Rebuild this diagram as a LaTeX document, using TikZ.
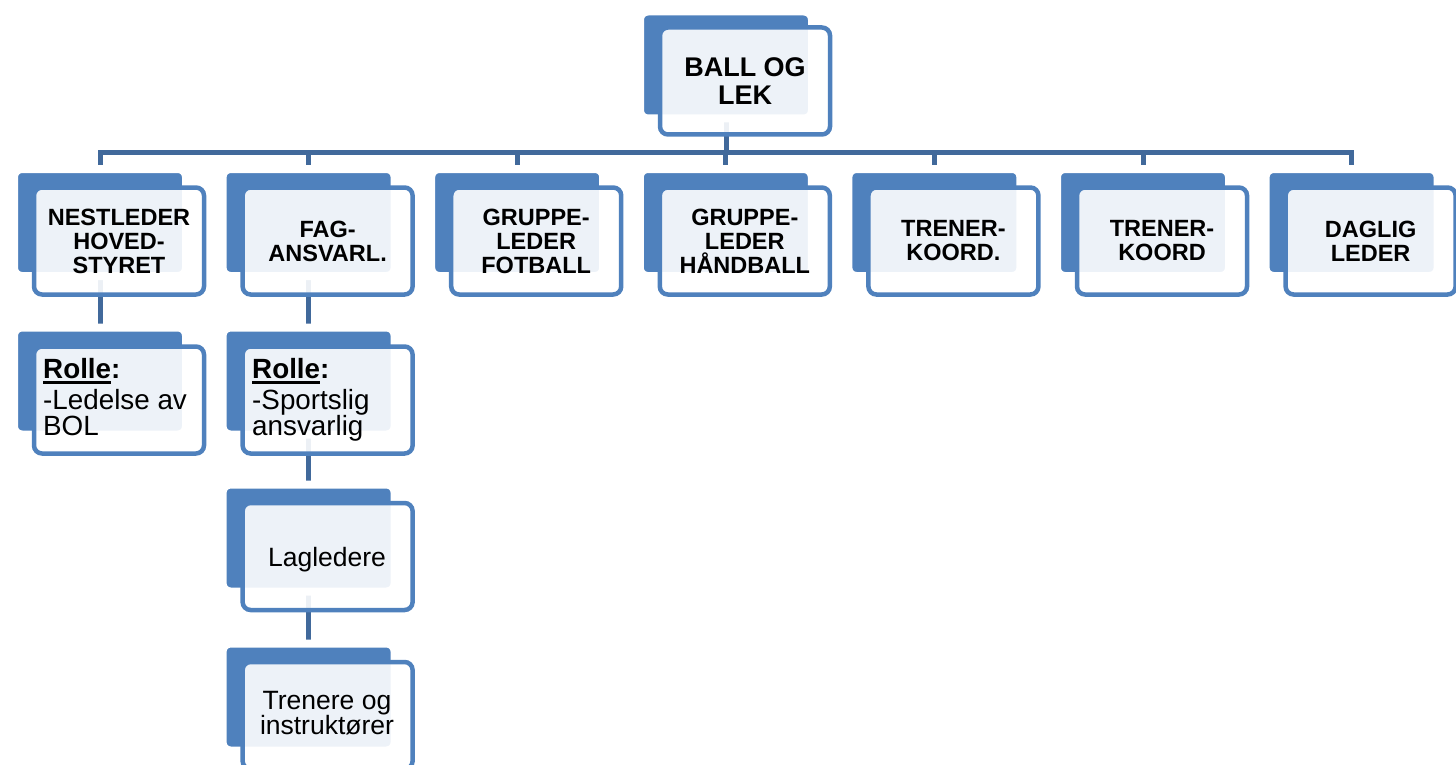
\documentclass[tikz,border=0pt]{standalone}
\usepackage{fontspec}
\setmainfont{Liberation Sans}
\usetikzlibrary{shadows}
\definecolor{accent}{HTML}{4F81BD}
\definecolor{conncol}{HTML}{41699B}
\newcommand\myul[1]{\setbox0\hbox{#1}\rlap{\rule[-5.5pt]{\wd0}{2.5pt}}\box0}
\tikzset{
  backbox/.style={draw=white, line width=8pt, fill=accent, rounded corners=8pt,
    minimum width=172pt, minimum height=107pt, inner sep=0pt,
    drop shadow={shadow xshift=-2pt, shadow yshift=-2.5pt, opacity=0.22, fill=black}},
  frontbox/.style={draw=accent, line width=4.5pt, fill=white, fill opacity=0.9,
    text opacity=1, rounded corners=8pt, minimum width=170pt, minimum height=107pt,
    inner sep=0pt, align=center},
  conn/.style={draw=conncol, line width=5pt},
  lvlone/.style={font=\fontsize{23.5}{24}\selectfont\bfseries},
  lvltop/.style={font=\fontsize{27}{28}\selectfont\bfseries},
  bodytext/.style={inner sep=0pt, font=\fontsize{26.5}{25}\selectfont},
  roletext/.style={inner sep=0pt, anchor=north west, align=left, font=\fontsize{27.8}{26}\selectfont},
}
\begin{document}
\begin{tikzpicture}[x=1pt,y=-1pt]
\useasboundingbox (0,0) rectangle (1456,765);
\clip (0,0) rectangle (1456,765);
% connectors
\coordinate (bar) at (726,152.5);
\coordinate (top) at (726,65);
\coordinate (c0) at (100,222.5);
\coordinate (c1) at (308.6,222.5);
\coordinate (c2) at (517.2,222.5);
\coordinate (c3) at (725.8,222.5);
\coordinate (c4) at (934.4,222.5);
\coordinate (c5) at (1143,222.5);
\coordinate (c6) at (1351.6,222.5);
\coordinate (c20) at (100,381);
\coordinate (c21) at (308.6,381);
\coordinate (c31) at (308.6,538);
\coordinate (c41) at (308.6,697);
\draw[conn] (top) -- (bar);
\foreach \i in {0,...,6} {\draw[conn] (bar) -| (c\i);}
\draw[conn] (c0) -- (c20);
\draw[conn] (c1) -- (c21) -- (c31) -- (c41);
% back boxes
\node[backbox] (btop) at (top) {};
\foreach \i in {0,...,6} {\node[backbox] (b\i) at (c\i) {};}
\node[backbox] (b20) at (c20) {};
\node[backbox] (b21) at (c21) {};
\node[backbox] (b31) at (c31) {};
\node[backbox] (b41) at (c41) {};
% front boxes
\node[frontbox, lvltop] (ftop) at (745,81) {BALL OG\\LEK};
\node[frontbox, lvlone] (f0) at (119,241) {NESTLEDER\\HOVED-\\STYRET};
\node[frontbox, lvlone] (f1) at (327.6,241) {FAG-\\ANSVARL.};
\node[frontbox, lvlone] (f2) at (536.2,241) {GRUPPE-\\LEDER\\FOTBALL};
\node[frontbox, lvlone] (f3) at (744.8,241) {GRUPPE-\\LEDER\\HÅNDBALL};
\node[frontbox, lvlone] (f4) at (953.4,241) {TRENER-\\KOORD.};
\node[frontbox, lvlone] (f5) at (1162,241) {TRENER-\\KOORD};
\node[frontbox, lvlone] (f6) at (1370.6,241) {DAGLIG\\LEDER};
\node[frontbox] (f20) at (119,400) {};
\node[frontbox] (f21) at (327.6,400) {};
\node[frontbox] (f31) at (327.6,556.5) {};
\node[frontbox] (f41) at (327.6,715.5) {};
% texts of lower boxes
\node[roletext] (t20) at (43,358)
  {\textbf{\myul{Rolle}:}\\[5pt]-Ledelse av\\BOL};
\node[roletext] (t21) at (252,358)
  {\textbf{\myul{Rolle}:}\\[5pt]-Sportslig\\ansvarlig};
\node[bodytext, anchor=base] (t31) at (327,566) {Lagledere};
\node[bodytext, anchor=center, align=center] (t41) at (327,713)
  {Trenere og\\instruktører};
\end{tikzpicture}
\end{document}
